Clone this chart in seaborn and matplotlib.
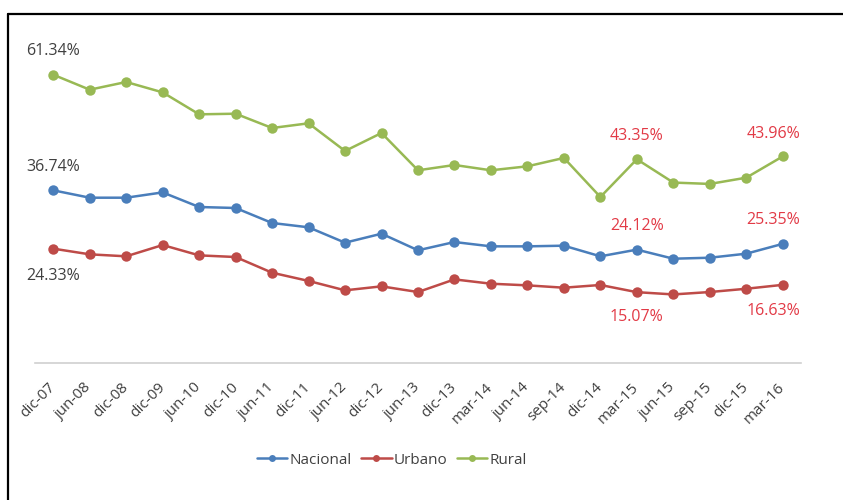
import matplotlib
matplotlib.use("Agg")
import matplotlib.pyplot as plt
import matplotlib.lines as mlines
import seaborn as sns
import pandas as pd
import numpy as np

categories = ["dic-07", "jun-08", "dic-08", "dic-09", "jun-10", "dic-10", "jun-11",
              "dic-11", "jun-12", "dic-12", "jun-13", "dic-13", "mar-14", "jun-14",
              "sep-14", "dic-14", "mar-15", "jun-15", "sep-15", "dic-15", "mar-16"]
nacional = [36.74, 35.17, 35.17, 36.30, 33.19, 32.98, 29.79, 28.87, 25.60, 27.51, 23.98,
            25.74, 24.82, 24.82, 24.96, 22.70, 24.12, 22.19, 22.40, 23.26, 25.35]
urbano = [24.33, 23.12, 22.70, 25.10, 22.90, 22.55, 19.21, 17.46, 15.46, 16.31, 15.10,
          17.79, 16.87, 16.52, 16.02, 16.60, 15.07, 14.59, 15.10, 15.80, 16.63]
rural = [61.34, 58.15, 59.79, 57.58, 52.91, 53.04, 50.00, 51.00, 45.11, 48.94, 41.00,
         42.13, 41.00, 41.85, 43.63, 35.32, 43.35, 38.39, 38.10, 39.43, 43.96]
series_names = ["Nacional", "Urbano", "Rural"]
colors = ["#4a7ebb", "#be4b48", "#98b954"]

sns.set_style("white")
plt.rcParams["font.family"] = ["Open Sans", "DejaVu Sans"]

idx = np.arange(len(categories))
df = pd.DataFrame({
    "pos": np.tile(idx, 3),
    "valor": nacional + urbano + rural,
    "serie": np.repeat(series_names, len(categories)),
})

fig = plt.figure(figsize=(8.43, 5.0), dpi=100)
ax = fig.add_axes([35 / 843, 1 - 363 / 500, (801 - 35) / 843, (363 - 34) / 500])
sns.lineplot(data=df, x="pos", y="valor", hue="serie", hue_order=series_names,
             palette=colors, marker="o", markersize=7.5, markeredgewidth=0,
             linewidth=1.8, ax=ax, legend=False)

ax.set_xlim(-0.5, len(categories) - 0.5)
ax.set_ylim(0, 70)
ax.set_xlabel("")
ax.set_ylabel("")
ax.set_yticks([])
ax.set_xticks(idx)
ax.set_xticklabels(categories, rotation=45, ha="right", va="center",
                   rotation_mode="anchor", fontsize=11, color="#404040")
ax.set_xticks(np.arange(-0.5, len(categories), 1), minor=True)
ax.tick_params(axis="x", which="major", length=0, pad=16)
ax.tick_params(axis="x", which="minor", length=6, color="#d0d0d0", width=1)
for s in ["top", "right", "left"]:
    ax.spines[s].set_visible(False)
ax.spines["bottom"].set_color("#d0d0d0")
ax.spines["bottom"].set_linewidth(1.2)

dark = "#404040"
red = "#e23a46"
fs = 11.5
# left labels (first point)
ax.annotate("61.34%", (0, rural[0]), xytext=(0, 17), textcoords="offset points",
            ha="center", va="center", fontsize=fs, color=dark)
ax.annotate("36.74%", (0, nacional[0]), xytext=(0, 17), textcoords="offset points",
            ha="center", va="center", fontsize=fs, color=dark)
ax.annotate("24.33%", (0, urbano[0]), xytext=(0, -20), textcoords="offset points",
            ha="center", va="center", fontsize=fs, color=dark)
# mar-15
i15 = categories.index("mar-15")
ax.annotate("43.35%", (i15, rural[i15]), xytext=(0, 17), textcoords="offset points",
            ha="center", va="center", fontsize=fs, color=red)
ax.annotate("24.12%", (i15, nacional[i15]), xytext=(0, 17), textcoords="offset points",
            ha="center", va="center", fontsize=fs, color=red)
ax.annotate("15.07%", (i15, urbano[i15]), xytext=(0, -18), textcoords="offset points",
            ha="center", va="center", fontsize=fs, color=red)
# mar-16
i16 = categories.index("mar-16")
ax.annotate("43.96%", (i16, rural[i16]), xytext=(-7, 16), textcoords="offset points",
            ha="center", va="center", fontsize=fs, color=red)
ax.annotate("25.35%", (i16, nacional[i16]), xytext=(-7, 17), textcoords="offset points",
            ha="center", va="center", fontsize=fs, color=red)
ax.annotate("16.63%", (i16, urbano[i16]), xytext=(-7, -19), textcoords="offset points",
            ha="center", va="center", fontsize=fs, color=red)

handles = [mlines.Line2D([], [], color=c, marker="o", markersize=5, markeredgewidth=0,
                         linewidth=1.8) for c in colors]
fig.legend(handles, series_names, loc="center", bbox_to_anchor=(392 / 843, 1 - 460 / 500),
           ncol=3, frameon=False, fontsize=11, handlelength=2.0, handletextpad=0.15,
           columnspacing=0.6, labelcolor="#404040")

# frame lines (left and top)
fig.add_artist(mlines.Line2D([8 / 843, 8 / 843], [0, 1 - 14 / 500], color="black",
                             linewidth=1.6, transform=fig.transFigure))
fig.add_artist(mlines.Line2D([8 / 843, 1], [1 - 14 / 500, 1 - 14 / 500], color="black",
                             linewidth=1.6, transform=fig.transFigure))

fig.savefig("out.png", dpi=100, facecolor="white")
